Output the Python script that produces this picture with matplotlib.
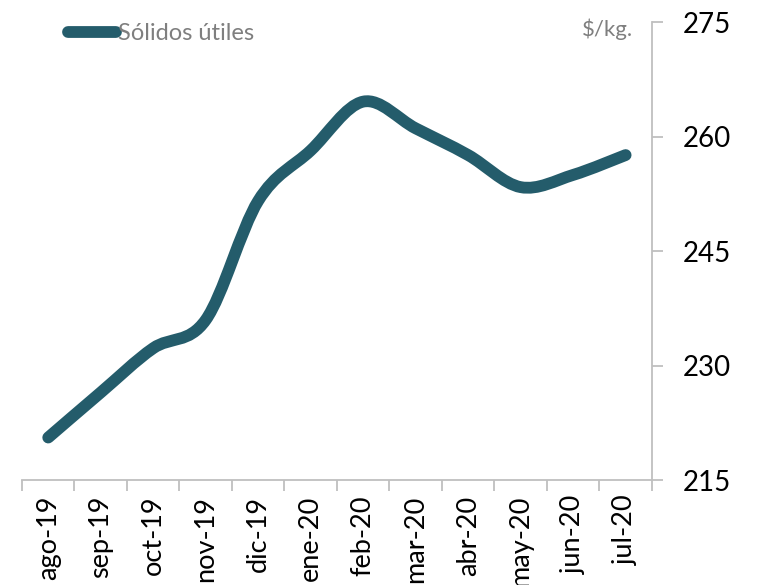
import numpy as np
import matplotlib.pyplot as plt
from matplotlib.path import Path
from matplotlib.patches import PathPatch
from matplotlib.lines import Line2D

# data
months = ['ago-19', 'sep-19', 'oct-19', 'nov-19', 'dic-19', 'ene-20',
          'feb-20', 'mar-20', 'abr-20', 'may-20', 'jun-20', 'jul-20']
solidos = [220.6, 226.5, 232.3, 236.0, 251.6, 258.2,
           264.6, 261.1, 257.6, 253.4, 255.0, 257.6]

color = '#245C6B'
gray = '#7F7F7F'
plt.rcParams['font.family'] = ['Lato', 'DejaVu Sans']

fig = plt.figure(figsize=(7.58, 5.85), dpi=100)
ax = fig.add_axes([0.029, 0.179, 0.831, 0.783])

# smoothed line (Excel-style catmull-rom bezier) through the data points
x = np.arange(len(months), dtype=float)
y = np.array(solidos)
verts = [(x[0], y[0])]
codes = [Path.MOVETO]
n = len(x)
for i in range(n - 1):
    i0 = max(i - 1, 0)
    i3 = min(i + 2, n - 1)
    c1 = (x[i] + (x[i + 1] - x[i0]) / 6, y[i] + (y[i + 1] - y[i0]) / 6)
    c2 = (x[i + 1] - (x[i3] - x[i]) / 6, y[i + 1] - (y[i3] - y[i]) / 6)
    verts += [c1, c2, (x[i + 1], y[i + 1])]
    codes += [Path.CURVE4] * 3
patch = PathPatch(Path(verts, codes), fill=False, edgecolor=color, lw=8.5,
                  capstyle='round', joinstyle='round')
ax.add_patch(patch)

ax.set_xlim(-0.5, len(months) - 0.5)
ax.set_ylim(215, 275)
ax.yaxis.tick_right()
ax.set_yticks([215, 230, 245, 260, 275])
ax.tick_params(axis='y', labelsize=20, length=8, width=1.3, color='#BFBFBF',
               pad=14, labelcolor='black')

ax.set_xticks(x)
ax.set_xticklabels(months, rotation=90, fontsize=19.5)
ax.set_xticks(np.arange(-0.5, len(months)), minor=True)
ax.tick_params(axis='x', which='major', length=0, pad=11)
ax.tick_params(axis='x', which='minor', length=8, width=1.3, color='#BFBFBF')

for s in ['left', 'top']:
    ax.spines[s].set_visible(False)
for s in ['right', 'bottom']:
    ax.spines[s].set_color('#BFBFBF')
    ax.spines[s].set_linewidth(1.3)

handle = Line2D([], [], color=color, lw=8.5, solid_capstyle='round')
leg = ax.legend([handle], ['Sólidos útiles'], loc='upper left',
                bbox_to_anchor=(0.04, 1.045), frameon=False, fontsize=17,
                handlelength=2.0, handletextpad=0.1)
for t in leg.get_texts():
    t.set_color(gray)

fig.text(0.768, 0.95, '$/kg.', color=gray, fontsize=16, ha='left', va='center')

fig.savefig('out.png', dpi=100)
